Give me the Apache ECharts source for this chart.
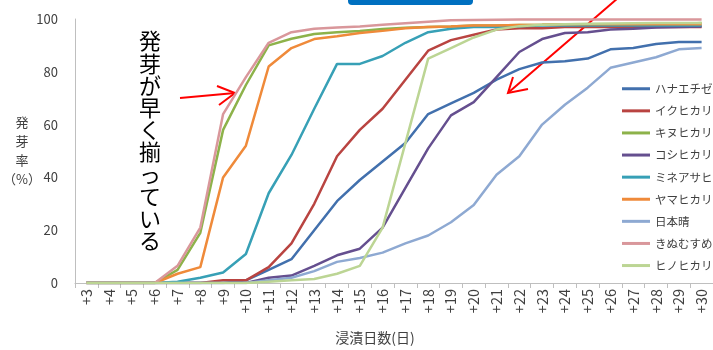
<!DOCTYPE html>
<html>
<head>
<meta charset="utf-8">
<script src="https://cdn.jsdelivr.net/npm/echarts@6/dist/echarts.min.js"></script>
<style>
  html, body { margin: 0; padding: 0; background: #ffffff; }
  #chart { width: 713px; height: 350px; }
</style>
</head>
<body>
<div id="chart"></div>
<script>
// Soaking days (+3 … +30)
const days = ['+3','+4','+5','+6','+7','+8','+9','+10','+11','+12','+13','+14','+15','+16',
              '+17','+18','+19','+20','+21','+22','+23','+24','+25','+26','+27','+28','+29','+30'];

// Germination rate (%) per variety
const hanaechizen = [0,0,0,0,0,0,0,1,5,9,20,31,39,46,53,64,68,72,77,81,83.5,84,85,88.5,89,90.5,91.3,91.3];
const ikuhikari   = [0,0,0,0,0,0,1,1,6,15,30,48,58,66,77,88,92,94,96,96.5,96.5,97,97,97,97,97,97,97];
const kinuhikari  = [0,0,0,0,5,19,58,75,90,92.5,94.3,95,95.5,96.2,96.7,97,97.2,97.5,97.5,97.7,97.8,98,98,98,98,98,98,98.5];
const koshihikari = [0,0,0,0,0,0,0,0,2,2.8,6.5,10.5,13,21,36,51,63.5,68.5,78,87.5,92.4,94.7,95,96,96.3,96.8,97,97.2];
const mineasahi   = [0,0,0,0,0.5,2,4,11,34,48.5,66,83,83,86,91,95,96.3,97,97,97.3,97.5,97.5,97.5,97.5,97.5,97.5,97.5,97.5];
const yamahikari  = [0,0,0,0,3.5,6,40,52,82,89,92.4,93.5,94.7,95.5,96.5,97,97.2,97.5,97.5,97.7,97.8,98,98,98,98,98,98,98];
const nipponbare  = [0,0,0,0,0,0,0,0,1,2,4.5,8,9.5,11.5,15,18,23,29.5,41,48,60,67.5,74,81.5,83.5,85.5,88.5,89];
const kinumusume  = [0,0,0,0,6.5,21,64,78,91,95,96.3,96.8,97.2,97.8,98.4,99,99.5,99.6,99.7,99.8,99.8,99.8,99.8,99.8,99.8,99.8,99.8,99.8];
const hinohikari  = [0,0,0,0,0,0,0,0,0.5,1,1.5,3.5,6.5,21,53,85,89,93,96,97.3,97.8,98,98.2,98.3,98.4,98.5,98.5,98.5];

const yTicks = { min: 0, max: 100, interval: 20 };

const varieties = [
  { name: 'ハナエチゼン', data: hanaechizen, color: '#4270AD' },
  { name: 'イクヒカリ',   data: ikuhikari,   color: '#B94441' },
  { name: 'キヌヒカリ',   data: kinuhikari,  color: '#8DB24A' },
  { name: 'コシヒカリ',   data: koshihikari, color: '#654F8F' },
  { name: 'ミネアサヒ',   data: mineasahi,   color: '#37A0B6' },
  { name: 'ヤマヒカリ',   data: yamahikari,  color: '#EF8A3A' },
  { name: '日本晴',       data: nipponbare,  color: '#8EA9D2' },
  { name: 'きぬむすめ',   data: kinumusume,  color: '#D9979B' },
  { name: 'ヒノヒカリ',   data: hinohikari,  color: '#BCD594' }
];

const JP = '"Noto Sans CJK JP", "Noto Sans", sans-serif';
const annotation = '発芽が早く揃っている'.split('').join('\n');

const chart = echarts.init(document.getElementById('chart'), null, { renderer: 'canvas' });

chart.setOption({
  animation: false,
  backgroundColor: '#ffffff',
  grid: { left: 75, right: -10, top: 19, bottom: 67, containLabel: false },
  xAxis: {
    type: 'category',
    data: days,
    boundaryGap: true,
    axisLine: { lineStyle: { color: '#BFBFBF', width: 1 } },
    axisTick: { show: true, length: 5, alignWithLabel: false, lineStyle: { color: '#BFBFBF' } },
    axisLabel: { rotate: 90, margin: 6, fontSize: 14.5, color: '#404040', fontFamily: JP, interval: 0 },
    splitLine: { show: false }
  },
  yAxis: {
    type: 'value',
    min: yTicks.min, max: yTicks.max, interval: yTicks.interval,
    axisLine: { show: true, lineStyle: { color: '#BFBFBF', width: 1 } },
    axisTick: { show: false },
    axisLabel: { margin: 17, fontSize: 13, color: '#404040', fontFamily: JP },
    splitLine: { show: false }
  },
  legend: {
    orient: 'vertical',
    left: 617, top: 78,
    icon: 'rect',
    itemWidth: 28, itemHeight: 3, itemGap: 10.6,
    textStyle: { fontSize: 11.5, color: '#404040', fontFamily: JP },
    data: varieties.map(v => v.name)
  },
  series: varieties.map(v => ({
    name: v.name,
    type: 'line',
    data: v.data,
    symbol: 'none',
    color: v.color,
    lineStyle: { width: 2.5, color: v.color },
    emphasis: { disabled: true }
  })),
  graphic: [
    { type: 'rect', shape: { x: 348, y: -10, width: 125, height: 15, r: 4 }, style: { fill: '#0070C0' } },
    { type: 'text', x: 150, y: 30, style: { text: annotation, font: '22px ' + JP, lineHeight: 22.2, fill: '#000000', textAlign: 'center', textVerticalAlign: 'top' } },
    { type: 'text', x: 22, y: 113, style: { text: '発\n芽\n率\n（%）', font: '13px ' + JP, lineHeight: 19, fill: '#404040', textAlign: 'center', textVerticalAlign: 'top' } },
    { type: 'text', x: 375, y: 338, style: { text: '浸漬日数(日)', font: '14px ' + JP, fill: '#404040', textAlign: 'center', textVerticalAlign: 'middle' } },
    // arrow toward the early group
    { type: 'polyline', shape: { points: [[180, 98], [235, 93]] }, style: { stroke: '#FF0000', lineWidth: 2, fill: null } },
    { type: 'polyline', shape: { points: [[217, 86], [235, 93], [219, 105]] }, style: { stroke: '#FF0000', lineWidth: 2, fill: null } },
    // arrow toward the late group
    { type: 'polyline', shape: { points: [[618, -2], [509, 92]] }, style: { stroke: '#FF0000', lineWidth: 2, fill: null } },
    { type: 'polyline', shape: { points: [[513, 77], [508, 93], [528, 89]] }, style: { stroke: '#FF0000', lineWidth: 2, fill: null } }
  ]
});
</script>
</body>
</html>
